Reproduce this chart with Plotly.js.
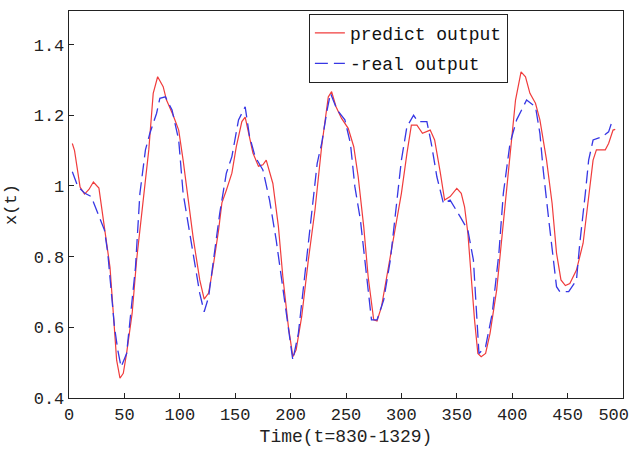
<!DOCTYPE html>
<html>
<head>
<meta charset="utf-8">
<script src="https://cdn.plot.ly/plotly-3.0.1.min.js"></script>
<style>html,body{margin:0;padding:0;background:#fff;}#chart{width:633px;height:452px;}</style>
</head>
<body>
<div id="chart"></div>
<script>
// predicted output (red, solid)
const predictT = [3,5,10,14,18,22,27,32,37,40,43,46,49,52,57,61,67,72,76,80,85,88,94,99,103,108,112,118,122,126,130,135,138,142,147,151,156,159,162,166,171,175,178,184,189,193,198,202,205,210,216,222,228,234,237,241,246,252,257,261,266,270,275,278,282,288,294,300,305,309,314,319,326,330,335,339,344,350,354,357,360,363,366,369,372,376,380,386,391,397,403,408,412,416,421,425,431,436,440,444,448,452,458,464,469,473,476,484,487,491,493];
const predictX = [1.12,1.10,0.997,0.977,0.99,1.011,0.994,0.884,0.77,0.64,0.507,0.456,0.47,0.527,0.64,0.79,0.96,1.102,1.262,1.309,1.281,1.243,1.20,1.158,1.073,0.952,0.855,0.734,0.68,0.697,0.77,0.875,0.952,0.988,1.036,1.111,1.182,1.195,1.153,1.093,1.056,1.06,1.073,1.007,0.885,0.743,0.602,0.517,0.536,0.63,0.79,0.932,1.111,1.252,1.267,1.224,1.191,1.163,1.111,1.026,0.885,0.743,0.621,0.618,0.658,0.762,0.866,0.979,1.092,1.172,1.172,1.149,1.158,1.13,1.04,0.96,0.97,0.993,0.979,0.941,0.866,0.743,0.621,0.526,0.517,0.526,0.583,0.706,0.866,1.045,1.243,1.323,1.309,1.262,1.234,1.187,1.073,0.951,0.81,0.734,0.718,0.724,0.762,0.838,0.979,1.073,1.102,1.102,1.12,1.158,1.16];

// real output (blue, dashed)
const realT = [3,8,14,20,26,32,35,38,41,44,47,52,55,60,64,69,73,79,82,87,93,99,103,108,114,118,122,126,132,136,142,147,153,159,163,168,175,181,187,193,198,202,207,213,218,224,228,233,236,242,249,254,258,263,269,273,278,284,290,296,300,305,311,315,323,327,332,338,344,353,360,365,368,370,376,382,388,392,398,404,413,421,425,428,433,437,440,443,451,458,461,466,469,473,481,487,491];
const realX = [1.04,0.998,0.98,0.97,0.923,0.875,0.81,0.697,0.602,0.536,0.488,0.526,0.621,0.77,0.979,1.102,1.149,1.205,1.248,1.252,1.215,1.13,0.979,0.885,0.77,0.696,0.644,0.686,0.828,0.922,1.036,1.083,1.187,1.224,1.139,1.083,1.045,0.96,0.847,0.715,0.602,0.507,0.583,0.743,0.894,1.064,1.12,1.215,1.262,1.215,1.187,1.12,0.998,0.904,0.743,0.621,0.621,0.677,0.79,0.96,1.073,1.168,1.20,1.182,1.182,1.12,1.026,0.95,0.96,0.913,0.875,0.79,0.64,0.526,0.545,0.64,0.81,0.979,1.12,1.187,1.243,1.224,1.149,1.045,0.904,0.79,0.715,0.701,0.701,0.734,0.838,0.979,1.073,1.13,1.139,1.153,1.191];

const seriesNames = ["predict output", "-real output"];
const xTickVals = [0,50,100,150,200,250,300,350,400,450];
const xTickText = ["0","50","100","150","200","250","300","350","400","450"];
const xEndTickVals = [500];
const xEndTickText = ["500"];
const yTickVals = [0.4,0.6,0.8,1.0,1.2,1.4];
const yTickText = ["0.4","0.6","0.8","1","1.2","1.4"];
const xTitle = "Time(t=830-1329)";
const yTitle = "x(t)";

const FONT = "'Liberation Mono', 'Courier New', monospace";

const traces = [
  {x: predictT, y: predictX, name: seriesNames[0], type: "scatter", mode: "lines",
   legendgroup: "a", line: {color: "rgb(240,60,60)", width: 1.2}},
  {x: realT, y: realX, name: seriesNames[1], type: "scatter", mode: "lines",
   legendgroup: "b", line: {color: "rgb(55,55,228)", width: 1.3, dash: "13px,6px"}},
  {x: [], y: [], xaxis: "x2", type: "scatter", mode: "lines", showlegend: false, hoverinfo: "skip"}
];

const axisCommon = {
  showline: true, mirror: true, linecolor: "#222", linewidth: 1.3,
  ticks: "inside", ticklen: 5, tickcolor: "#222", showgrid: false, zeroline: false,
  tickfont: {family: FONT, size: 17, color: "#222"}
};

const layout = {
  width: 633, height: 452,
  margin: {l: 69, r: 10, t: 11, b: 54},
  paper_bgcolor: "#fff", plot_bgcolor: "#fff",
  showlegend: true,
  legend: {x: 0.433, y: 0.993, xanchor: "left", yanchor: "top",
    bgcolor: "#fff", bordercolor: "#222", borderwidth: 1,
    tracegroupgap: 4,
    font: {family: FONT, size: 18, color: "#111"}},
  xaxis: Object.assign({}, axisCommon, {range: [0, 500], tickmode: "array",
    tickvals: xTickVals.concat(xEndTickVals), ticktext: xTickText.concat([""]),
    title: {text: xTitle, standoff: 5, font: {family: FONT, size: 18, color: "#222"}}}),
  xaxis2: {overlaying: "x", side: "bottom", anchor: "y", range: [0, 500],
    tickmode: "array", tickvals: xEndTickVals, ticktext: xEndTickText,
    ticks: "", showline: false, showgrid: false, zeroline: false,
    ticklabelposition: "outside left", ticklabelstandoff: 4, ticklabelshift: 6,
    tickfont: {family: FONT, size: 17, color: "#222"}},
  yaxis: Object.assign({}, axisCommon, {range: [0.4, 1.495], tickmode: "array",
    tickvals: yTickVals, ticktext: yTickText,
    title: {text: yTitle, standoff: 12, font: {family: FONT, size: 17, color: "#222"}}})
};

Plotly.newPlot("chart", traces, layout, {displayModeBar: false, staticPlot: true});
</script>
</body>
</html>
